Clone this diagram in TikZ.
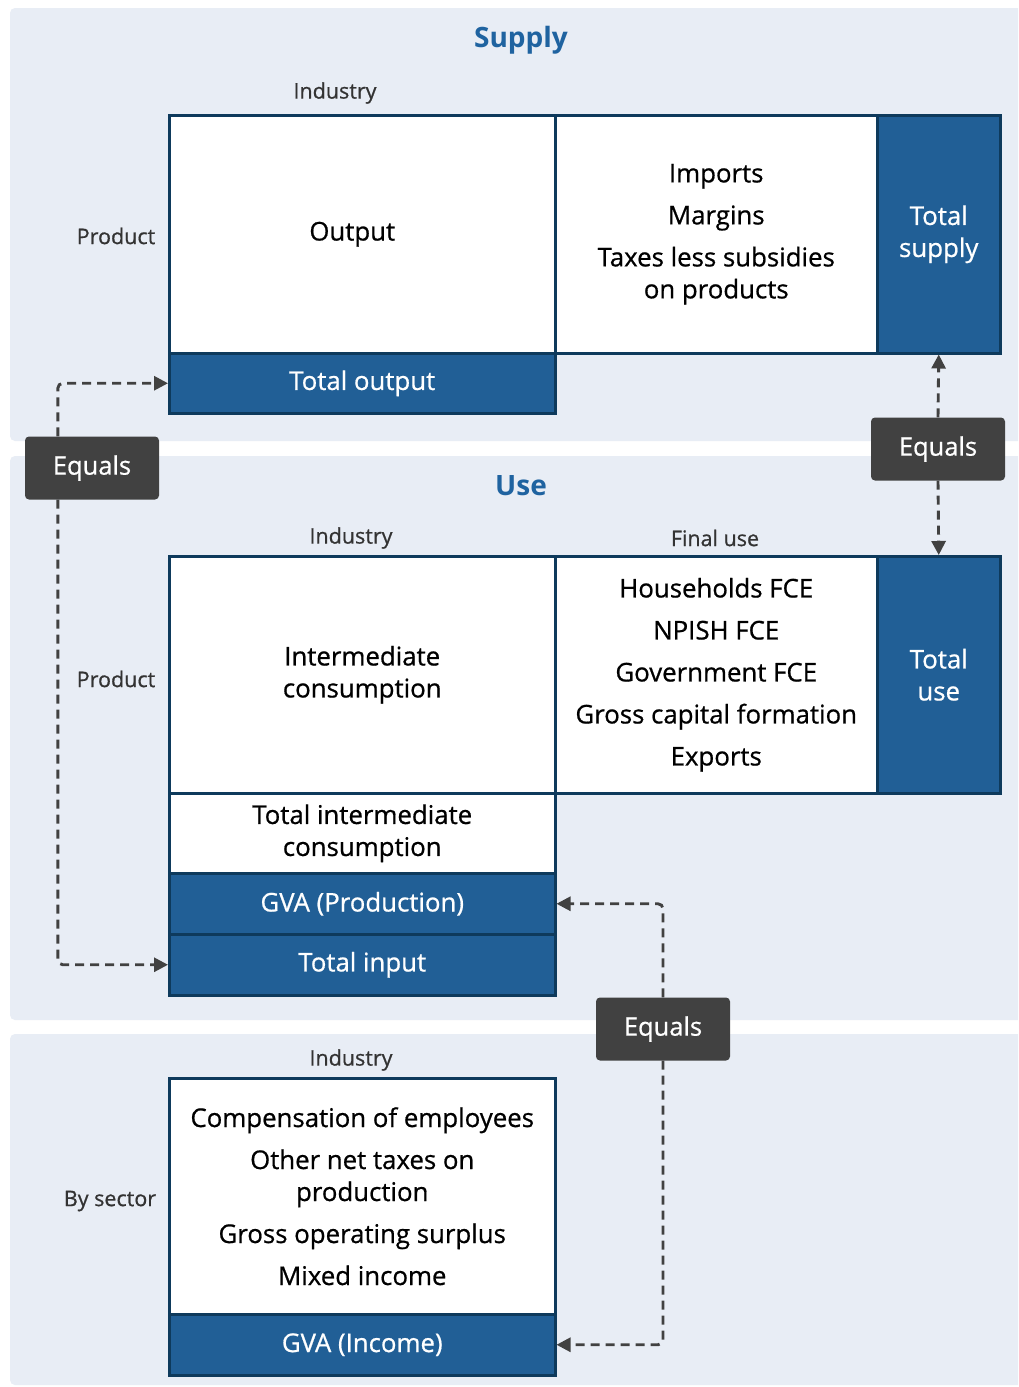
\documentclass[tikz,border=0pt]{standalone}
\usepackage{fontspec}
\setmainfont{Open Sans}
\newfontfamily\semifont{Open Sans}[FakeBold=0.7]
\usetikzlibrary{arrows.meta,calc}
\definecolor{panelbg}{HTML}{E8EDF5}
\definecolor{navy}{HTML}{0E3A5C}
\definecolor{cellblue}{HTML}{215F96}
\definecolor{titleblue}{HTML}{1F63A0}
\definecolor{eqgray}{HTML}{414141}
\definecolor{labgray}{HTML}{333333}
\tikzset{
  panel/.style={fill=panelbg, draw=none, rounded corners=5pt},
  cell/.style={draw=navy, line width=2.5pt, fill=white, anchor=north west, inner sep=0pt,
    align=center, text=black, font=\semifont\fontsize{25.8}{32}\selectfont},
  bluecell/.style={cell, fill=cellblue, text=white},
  eqbox/.style={fill=eqgray, rounded corners=4pt, text=white, minimum width=134pt, minimum height=63pt,
    inner sep=0pt, font=\semifont\fontsize{25.5}{30}\selectfont},
  lab/.style={text=labgray, font=\semifont\fontsize{21.5}{24}\selectfont, inner sep=0pt},
  ptitle/.style={text=titleblue, font=\fontsize{28}{32}\selectfont\bfseries, inner sep=0pt},
  conn/.style={draw=eqgray, line width=2.9pt, dash pattern=on 9pt off 6pt, rounded corners=5pt,
    -{Triangle[length=14pt,width=14pt]}}
}
\begin{document}
\begin{tikzpicture}[x=1pt,y=-1pt]
\clip (0,0) rectangle (1018,1387);
\fill[white] (0,0) rectangle (1018,1387);
% panels
\fill[panel] (10,8) rectangle (1040,441);
\fill[panel] (10,456) rectangle (1040,1020);
\fill[panel] (10,1034) rectangle (1040,1385);
% supply
\node[ptitle] (tsupply) at (521,40) {Supply};
\node[lab] (lind1) at (335,93) {Industry};
\node[lab] (lprod1) at (116,236) {Product};
\node[cell, minimum width=386, minimum height=238] (outp) at (168,114) {\hspace*{-20pt}\raisebox{-4pt}{Output}};
\node[cell, minimum width=322, minimum height=238] (imp) at (554,114)
  {Imports\\[10pt]Margins\\[10pt]Taxes less subsidies\\on products};
\node[bluecell, minimum width=123, minimum height=238] (tsup) at (876,114) {Total\\supply};
\node[bluecell, minimum width=386, minimum height=60] (tout) at (168,352) {Total output};
% use
\node[ptitle] (tuset) at (521,486) {Use};
\node[lab] (lind2) at (351,538) {Industry};
\node[lab] (lfin) at (715,538) {Final use};
\node[lab] (lprod2) at (116,679) {Product};
\node[cell, minimum width=386, minimum height=237] (ic) at (168,555) {Intermediate\\consumption};
\node[cell, minimum width=322, minimum height=237] (fu) at (554,555)
  {Households FCE\\[10pt]NPISH FCE\\[10pt]Government FCE\\[10pt]Gross capital formation\\[10pt]Exports};
\node[bluecell, minimum width=123, minimum height=237] (tuse) at (876,555) {Total\\use};
\node[cell, minimum width=386, minimum height=80] (tic) at (168,792) {Total intermediate\\consumption};
\node[bluecell, minimum width=386, minimum height=61] (gvap) at (168,872) {GVA (Production)};
\node[bluecell, minimum width=386, minimum height=61] (tin) at (168,933) {Total input};
% income
\node[lab] (lind3) at (351,1060) {Industry};
\node[lab] (lsec) at (110,1201) {By sector};
\node[cell, minimum width=386, minimum height=236] (inc) at (168,1077)
  {Compensation of employees\\[10pt]Other net taxes on\\production\\[10pt]Gross operating surplus\\[10pt]Mixed income};
\node[bluecell, minimum width=386, minimum height=61] (gvai) at (168,1313) {GVA (Income)};
% equals boxes
\node[eqbox] (eqL) at (92,468) {Equals};
\node[eqbox] (eqR) at (938,449) {Equals};
\node[eqbox] (eqM) at (663,1029) {Equals};
% connectors
\coordinate (eqLt) at ($(eqL.north west)+(33,0)$);
\coordinate (eqLb) at ($(eqL.south west)+(33,0)$);
\draw[conn] (eqLt) |- (tout.west);
\draw[conn] (eqLb) |- (tin.west);
\draw[conn] (eqR.north) -- (tsup.south);
\draw[conn] (eqR.south) -- (tuse.north);
\draw[conn] (eqM.north) |- (gvap.east);
\draw[conn] (eqM.south) |- (gvai.east);
\end{tikzpicture}
\end{document}
